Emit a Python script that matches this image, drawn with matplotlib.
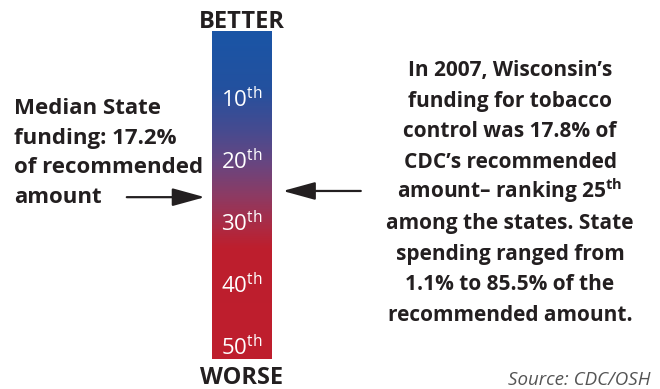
import numpy as np
import matplotlib.pyplot as plt
from matplotlib.colors import LinearSegmentedColormap
from matplotlib.transforms import offset_copy

plt.rcParams['font.family'] = ['Open Sans', 'DejaVu Sans']
plt.rcParams['mathtext.fontset'] = 'custom'
plt.rcParams['mathtext.rm'] = 'Open Sans'
plt.rcParams['mathtext.bf'] = 'Open Sans:bold'

# data
ranks = [10, 20, 30, 40, 50]
rank_labels = ['10', '20', '30', '40', '50']
median_rank = 26
median_pct = 17.2
wi_rank = 25
wi_pct = 17.8
wi_year = 2007
min_pct = 1.1
max_pct = 85.5
grad_stops = [0.0, 0.17, 0.30, 0.40, 0.50, 0.60, 0.66, 1.0]
grad_colors = ['#1a55a6', '#23519f', '#464b90', '#674681', '#8c3b64', '#ad2a42', '#bd1f2e', '#bf1e2d']

left_lines = ['Median State', 'funding: %.1f%%' % median_pct, 'of recommended', 'amount']
right_lines = ['In %d, Wisconsin\u2019s' % wi_year,
               'funding for tobacco',
               'control was %.1f%% of' % wi_pct,
               'CDC\u2019s recommended',
               'amount\u2013 ranking %d' % wi_rank + r'$^{\mathbf{th}}$',
               'among the states. State',
               'spending ranged from',
               '%.1f%% to %.1f%% of the' % (min_pct, max_pct),
               'recommended amount.']

dark = '#231f20'

fig = plt.figure(figsize=(6.6, 3.89), dpi=100)
bg = fig.add_axes([0, 0, 1, 1])
bg.set_xlim(0, 660)
bg.set_ylim(389, 0)
bg.axis('off')

# gradient bar, y axis in rank units
bar = fig.add_axes([212 / 660, 30 / 389, 60 / 660, 328 / 389])
top, bottom = -0.8, 52.1
cmap = LinearSegmentedColormap.from_list('rank', list(zip(grad_stops, grad_colors)))
grad = np.linspace(0, 1, 400).reshape(-1, 1)
bar.imshow(grad, cmap=cmap, aspect='auto', extent=[0, 1, bottom, top])
bar.set_xlim(0, 1)
bar.set_ylim(bottom, top)
bar.axis('off')

lab_tr = offset_copy(bar.transData, fig=fig, x=0, y=-9, units='dots')
for r, lab in zip(ranks, rank_labels):
    bar.text(0.5, r, lab + r'$^{\mathrm{th}}$', color='white', fontsize=16,
             ha='center', va='baseline', transform=lab_tr)

bg.text(242, 28, 'BETTER', ha='center', va='baseline',
        fontsize=17, fontweight='bold', color=dark)
bg.text(242, 384, 'WORSE', ha='center', va='baseline',
        fontsize=17, fontweight='bold', color=dark)

# arrows
tr = bar.get_yaxis_transform()
aprops = dict(arrowstyle='-|>,head_length=2.0,head_width=0.55', lw=1.6,
              color=dark, shrinkA=0, shrinkB=0)
bar.annotate('', xy=(-0.12, median_rank), xycoords=tr, xytext=(-1.42, median_rank),
             textcoords=tr, annotation_clip=False, arrowprops=aprops)
bar.annotate('', xy=(1.18, wi_rank), xycoords=tr, xytext=(2.48, wi_rank),
             textcoords=tr, annotation_clip=False, arrowprops=aprops)

for i, line in enumerate(left_lines):
    bg.text(14, 114 + 29.5 * i, line, ha='left', va='baseline', fontsize=16,
            fontweight='bold', color=dark)

for i, line in enumerate(right_lines):
    bg.text(510, 76 + 30.6 * i, line, ha='center', va='baseline', fontsize=15,
            fontweight='bold', color=dark)

bg.text(650, 385, 'Source: CDC/OSH', ha='right', va='baseline', fontsize=13.5,
        style='italic', color='#555555')

fig.savefig('out.png', dpi=100)
